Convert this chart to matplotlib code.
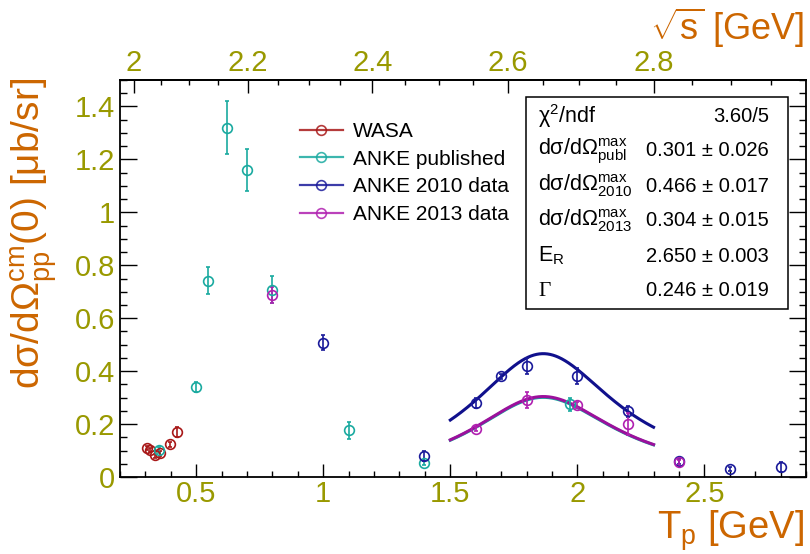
import numpy as np
import matplotlib
matplotlib.use("Agg")
import matplotlib.pyplot as plt
from matplotlib.ticker import MultipleLocator, FuncFormatter, FixedLocator
from matplotlib.lines import Line2D
from matplotlib.patches import Rectangle

plt.rcParams['font.family'] = ['Liberation Sans', 'DejaVu Sans']
plt.rcParams['mathtext.fontset'] = 'custom'
plt.rcParams['mathtext.rm'] = 'Liberation Sans'
plt.rcParams['mathtext.it'] = 'Liberation Sans:italic'
plt.rcParams['mathtext.bf'] = 'Liberation Sans:bold'
plt.rcParams['mathtext.sf'] = 'Liberation Sans'

# ---------------- data ----------------
wasa_tp = [0.305, 0.320, 0.337, 0.357, 0.397, 0.424]
wasa_val = [0.110, 0.103, 0.085, 0.090, 0.123, 0.170]
wasa_err = [0.008, 0.008, 0.014, 0.010, 0.010, 0.019]

pub_tp = [0.352, 0.500, 0.546, 0.623, 0.699, 0.798, 1.100, 1.397, 1.970]
pub_val = [0.103, 0.340, 0.742, 1.320, 1.160, 0.708, 0.176, 0.053, 0.274]
pub_err = [0.012, 0.020, 0.050, 0.100, 0.080, 0.050, 0.032, 0.008, 0.025]

a10_tp = [1.000, 1.397, 1.600, 1.700, 1.800, 2.000, 2.200, 2.400, 2.600, 2.800]
a10_val = [0.508, 0.079, 0.280, 0.380, 0.418, 0.380, 0.248, 0.059, 0.029, 0.038]
a10_err = [0.030, 0.020, 0.020, 0.008, 0.030, 0.030, 0.020, 0.008, 0.008, 0.020]

a13_tp = [0.798, 1.600, 1.800, 2.000, 2.200, 2.400]
a13_val = [0.688, 0.180, 0.292, 0.272, 0.200, 0.055]
a13_err = [0.030, 0.008, 0.030, 0.010, 0.040, 0.008]

# fit results (Breit-Wigner in sqrt(s))
fit_ER = 2.650
fit_gamma = 0.246
fit_peak_publ = 0.301
fit_peak_2010 = 0.466
fit_peak_2013 = 0.304
fit_range = (1.5, 2.3)

top_major = [2.0, 2.2, 2.4, 2.6, 2.8]
top_minor = [2.05, 2.1, 2.15, 2.25, 2.3, 2.35, 2.45, 2.5, 2.55, 2.65, 2.7, 2.75,
             2.85, 2.9, 2.95]

series_labels = ["WASA", "ANKE published", "ANKE 2010 data", "ANKE 2013 data"]
stats_names = [r"χ$^{2}$/ndf",
               r"dσ/dΩ$^{\rm max}_{\rm publ}$",
               r"dσ/dΩ$^{\rm max}_{\rm 2010}$",
               r"dσ/dΩ$^{\rm max}_{\rm 2013}$",
               r"E$_{\rm R}$",
               "Γ"]
stats_values = ["3.60/5", "0.301 ± 0.026", "0.466 ± 0.017", "0.304 ± 0.015",
                "2.650 ± 0.003", "0.246 ± 0.019"]

M_P = 0.938272


def tp_to_rs(tp):
    tp = np.asarray(tp, dtype=float)
    return np.sqrt(np.clip(2 * M_P * (tp + 2 * M_P), 1e-9, None))


def rs_to_tp(rs):
    rs = np.asarray(rs, dtype=float)
    return rs ** 2 / (2 * M_P) - 2 * M_P


def bw(tp, peak):
    rs = tp_to_rs(tp)
    g2 = (fit_gamma / 2) ** 2
    return peak * g2 / ((rs - fit_ER) ** 2 + g2)


# ---------------- style ----------------
c_wasa = '#a81818'
c_pub = '#1aaaa0'
c_10 = '#1a1a9a'
c_13 = '#b020b0'
olive = '#999900'
orange = '#cc6600'

W, H = 810, 554
fig = plt.figure(figsize=(W / 100, H / 100), dpi=100)
L, R, T, B = 120, 806, 80, 477
ax = fig.add_axes([L / W, 1 - B / H, (R - L) / W, (B - T) / H])
ax.set_xlim(0.2, 2.9)
ax.set_ylim(0, 1.5)

# fit curves
tgrid = np.linspace(fit_range[0], fit_range[1], 300)
ax.plot(tgrid, bw(tgrid, fit_peak_2010), color='#10108c', lw=2.2, zorder=2)
ax.plot(tgrid, bw(tgrid, fit_peak_publ), color='#10a89c', lw=2.2, zorder=2)
ax.plot(tgrid, bw(tgrid, fit_peak_2013), color='#9c109c', lw=2.2, zorder=2)

ekw = dict(fmt='o', mfc='none', ms=7, mew=1.2, elinewidth=1.2, capsize=1.6,
           capthick=1.2, zorder=3)
ax.errorbar(wasa_tp, wasa_val, yerr=wasa_err, mec=c_wasa, ecolor=c_wasa, **ekw)
ax.errorbar(pub_tp, pub_val, yerr=pub_err, mec=c_pub, ecolor=c_pub, **ekw)
ax.errorbar(a10_tp, a10_val, yerr=a10_err, mec=c_10, ecolor=c_10, **ekw)
ax.errorbar(a13_tp, a13_val, yerr=a13_err, mec=c_13, ecolor=c_13, **ekw)

# axes style
for s in ax.spines.values():
    s.set_linewidth(1.3)
ax.xaxis.set_major_locator(MultipleLocator(0.5))
ax.xaxis.set_minor_locator(MultipleLocator(0.1))
ax.yaxis.set_major_locator(MultipleLocator(0.2))
ax.yaxis.set_minor_locator(MultipleLocator(0.05))
fmt = FuncFormatter(lambda v, p: '%g' % round(v, 3))
ax.xaxis.set_major_formatter(fmt)
ax.yaxis.set_major_formatter(fmt)
ax.tick_params(axis='both', which='both', direction='in', top=False, right=True,
               width=1.0, labelsize=21, labelcolor=olive)
ax.tick_params(axis='x', which='major', length=9.6, pad=2)
ax.tick_params(axis='x', which='minor', length=4.3)
ax.tick_params(axis='y', which='major', length=12, pad=3.6)
ax.tick_params(axis='y', which='minor', length=4.8)

sec = ax.secondary_xaxis('top', functions=(tp_to_rs, rs_to_tp))
sec.xaxis.set_major_locator(FixedLocator(top_major))
sec.xaxis.set_minor_locator(FixedLocator(top_minor))
sec.xaxis.set_major_formatter(fmt)
sec.spines['top'].set_linewidth(1.3)
sec.tick_params(axis='x', which='both', direction='in', width=1.0,
                labelsize=21, labelcolor=olive)
sec.tick_params(axis='x', which='major', length=9.4, pad=2)
sec.tick_params(axis='x', which='minor', length=3.6)

# axis titles
fig.text(804 / W, 1 - 508 / H, r"T$_{\rm p}$ [GeV]", color=orange, fontsize=27.5,
         ha='right', va='top')
fig.text(804 / W, 1 - 6 / H, r"$\sqrt{\rm s}$ [GeV]", color=orange, fontsize=26,
         ha='right', va='top')
fig.text(34 / W, 1 - 78 / H, r"dσ/dΩ$^{\rm cm}_{\rm pp}$(0) [μb/sr]", color=orange,
         fontsize=28, rotation=90, ha='center', va='top')

# legend
handles = [Line2D([], [], color=c, marker='o', mfc='none', mec=c, ms=7, mew=1.2,
                  lw=1.6, alpha=0.85) for c in (c_wasa, c_pub, c_10, c_13)]
ax.legend(handles, series_labels, loc='upper left',
          bbox_to_anchor=(300 / W, 1 - 122 / H), bbox_transform=fig.transFigure,
          frameon=False, fontsize=15, handlelength=2.05, handletextpad=0.5,
          labelspacing=0.42, borderpad=0, borderaxespad=0)

# stats box
bx0, bx1, by0, by1 = 526, 788, 97, 309
fig.add_artist(Rectangle((bx0 / W, 1 - by1 / H), (bx1 - bx0) / W, (by1 - by0) / H,
                         transform=fig.transFigure, facecolor='white',
                         edgecolor='black', lw=1.1, zorder=5))
rows_y = [116, 151, 186, 221, 256, 291]
for i, (nm, vl, yy) in enumerate(zip(stats_names, stats_values, rows_y)):
    fam = ['Liberation Serif'] if nm == "Γ" else ['Liberation Sans', 'DejaVu Sans']
    fig.text(538 / W, 1 - yy / H, nm, fontsize=15.5, ha='left', va='center',
             family=fam, zorder=6)
    fig.text(769 / W, 1 - yy / H, vl, fontsize=14.5, ha='right', va='center',
             zorder=6)

fig.savefig("out.png", dpi=100)
